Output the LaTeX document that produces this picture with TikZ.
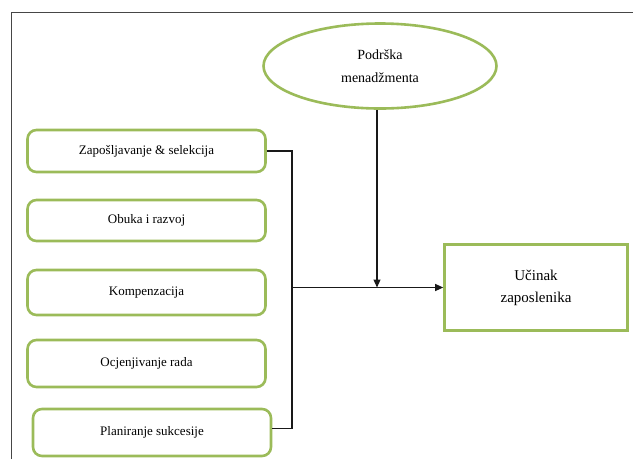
\documentclass[tikz,border=0pt]{standalone}
\usepackage{fontspec}
\setmainfont{Liberation Serif}
\usetikzlibrary{shapes.geometric,arrows.meta}
\definecolor{leaf}{RGB}{155,187,89}
\definecolor{rule}{RGB}{70,70,70}
\tikzset{
  hrbox/.style={draw=leaf,line width=2.6pt,rounded corners=9pt,minimum width=238pt,align=center,font=\fontsize{13}{16}\selectfont},
  link/.style={draw=black!90,line width=1.1pt},
  arr/.style={link,-{Triangle[length=8pt,width=7pt]}}
}
\begin{document}
\begin{tikzpicture}[x=1pt,y=-1pt]
			\useasboundingbox (0,0) rectangle (633,459);
			\draw[rule,line width=1.3pt] (11.5,459) -- (11.5,12.5) -- (633,12.5);
			\node[ellipse,draw=leaf,line width=2.6pt,minimum width=233pt,minimum height=85pt,align=center,font=\fontsize{14}{23}\selectfont] (pod) at (380,66) {Podrška\\menadžmenta};
			\foreach \x/\y/\h/\n/\t in {146.5/151/42/z1/Zapošljavanje \& selekcija,146.5/220.5/41/z2/Obuka i razvoj,146.5/292.5/45/z3/Kompenzacija,146.5/363.5/47/z4/Ocjenjivanje rada,152/432.5/47/z5/Planiranje sukcesije}
				\node[hrbox,minimum height=\h pt] (\n) at (\x,\y) {\t};
			\node[draw=leaf,line width=2.6pt,minimum width=183pt,minimum height=86pt,align=center,font=\fontsize{15}{22}\selectfont] (out) at (536,287.5) {Učinak\\zaposlenika};
			\coordinate (br) at (292,287.5);
			\draw[link] (z1.east) -| (br) |- ([yshift=4pt]z5.east);
			\draw[arr] (br) -- (out.west);
			\draw[arr] (pod.south -| 377,0) -- (br -| 377,0);
\end{tikzpicture}
\end{document}
